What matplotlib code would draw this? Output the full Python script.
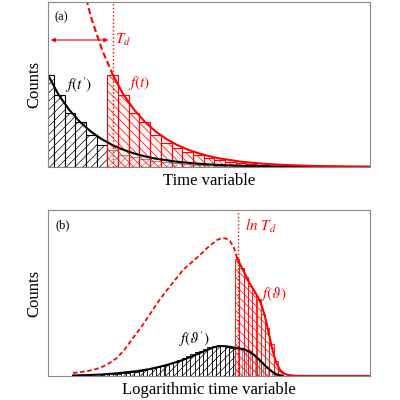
import numpy as np
import matplotlib
matplotlib.use("Agg")
import matplotlib.pyplot as plt

plt.rcParams['font.family'] = ['Liberation Serif', 'DejaVu Serif']
plt.rcParams['mathtext.fontset'] = 'stix'
plt.rcParams['hatch.linewidth'] = 0.5

# ---- panel (a): bins of width 1 ----
td = 6.07
black_a = [92, 72, 54, 45, 32, 22, 17, 12, 10, 8, 6, 5, 4, 3, 2, 2, 1.5, 1, 1]
red_a = [92, 72, 54, 45, 32, 24, 19, 15, 12, 9, 7, 5, 4, 3, 2, 1.5]
decay_x = [0, 1, 2, 3, 4, 5, 6, 7, 8, 9, 10, 12, 14, 16, 18, 20, 22, 25, 30]
decay_y = [92, 72, 57, 45, 35.5, 28, 22, 17.4, 13.7, 10.8, 8.5, 5.3, 3.3, 2.0, 1.3, 0.8, 0.5, 0.2, 0.05]

# ---- panel (b): x in pixel-like units ----
bw = 4.3
black_b = [1.4, 1.65, 1.9, 2.2, 2.5, 2.9, 3.4, 3.9, 4.4, 5.1, 5.9, 6.8, 7.7, 8.8, 10.0,
           11.3, 12.8, 14.5, 16.1, 17.9, 19.9, 21.8, 23.8, 25.5, 27.2, 28.6, 29.6, 30,
           29.8, 29.3, 28.5, 27.5, 26.8, 26.2, 25, 22, 18, 14, 10, 5, 2.5, 1]
red_b = [117, 108, 99, 90, 83, 77, 62, 48, 32, 15, 5]
dash_x = [25, 40, 52, 60, 69, 77, 85, 94, 102, 110, 119, 127, 135, 144, 152, 158,
          164, 169, 174, 178, 182, 186, 189]
dash_y = [3, 5, 8, 12, 18, 27, 38, 50, 62, 74, 86, 96, 106, 114, 121, 127,
          132, 136, 138, 137.5, 135, 128, 118]
solid_x = [189, 194, 198, 202, 207, 212, 216, 219, 222, 225, 228, 232, 236, 240, 247, 267, 322]
solid_y = [118, 108, 100, 92, 84, 75, 63, 51, 37, 24, 14, 6, 2.5, 1, 0.2, 0, 0]
blk_x = [25, 40, 52, 70, 90, 102, 117, 132, 145, 152, 160, 166, 171, 177, 183,
         190, 196, 201, 206, 211, 215, 219, 224, 229, 235]
blk_y = [0.5, 0.9, 1.4, 2.8, 5, 7, 10.5, 15, 20, 23, 26.5, 28.8, 30, 29.8, 29,
         27.8, 26.8, 24.5, 21, 16.5, 12.5, 8.5, 4.5, 1.5, 0]

fig = plt.figure(figsize=(4, 4), dpi=100)
axa = fig.add_axes([0.12, 0.5825, 0.805, 0.4125])
axb = fig.add_axes([0.12, 0.06, 0.805, 0.415])

xa = -0.45 + np.arange(len(black_a))
axa.bar(xa, black_a, width=1, align='edge', facecolor='white', edgecolor='black',
        hatch='////', lw=0.8)
xr = 5.55 + np.arange(len(red_a))
axa.bar(xr, red_a, width=1, align='edge', facecolor=(1, 0.93, 0.93, 0.6), edgecolor='red',
        hatch='\\\\\\\\', lw=0.8)
dx = np.array(decay_x, float)
dy = np.array(decay_y, float)
axa.plot(dx, dy, color='black', lw=1.5)
axa.plot(dx + td, dy, color='red', lw=1.5)
axa.plot(dx[:4] - 3 + td, [92 * np.exp(3 / 4.2), 92 * np.exp(2 / 4.2), 92 * np.exp(1 / 4.2), 92],
         color='red', lw=1.5, dashes=(3, 1.5))
axa.axvline(td, color='red', ls=':', lw=1)
axa.annotate('', xy=(0, 127), xytext=(5.9, 127),
             arrowprops=dict(arrowstyle='<|-|>', color='red', lw=0.8, mutation_scale=6))
axa.text(6.3, 127, '$T_d$', color='red', fontsize=11, va='center')
axa.text(1.6, 82, "$f(t')$", fontsize=11, va='center')
axa.text(7.5, 84, "$f(t)$", color='red', fontsize=11, va='center')
axa.text(0.65, 147, '(a)', fontsize=9)
axa.set_xlim(0, 30.1)
axa.set_ylim(0, 165)
axa.set_xlabel('Time variable', fontsize=12, labelpad=4)
axa.set_ylabel('Counts', fontsize=12, labelpad=4)

xb = 52 + bw * np.arange(len(black_b))
axb.bar(xb, black_b, width=bw, align='edge', facecolor='white', edgecolor='black',
        hatch='////', lw=0.6)
xrb = 187 + bw * np.arange(len(red_b))
axb.bar(xrb, red_b, width=bw, align='edge', facecolor=(1, 0.93, 0.93, 0.6), edgecolor='red',
        hatch='\\\\\\\\', lw=0.6)
axb.plot(dash_x, dash_y, color='red', lw=1.3, dashes=(2.5, 1.5))
axb.plot(solid_x, solid_y, color='red', lw=1.5)
axb.plot(blk_x, blk_y, color='black', lw=1.5)
axb.axvline(190, color='red', ls=':', lw=1)
axb.text(197, 150, '$ln\\ T_d$', color='red', fontsize=11, va='center')
axb.text(212, 82, '$f(\\vartheta)$', color='red', fontsize=11, va='center')
axb.text(130, 37, "$f(\\vartheta')$", fontsize=11, va='center')
axb.text(7, 148, '(b)', fontsize=9)
axb.set_xlim(0, 322)
axb.set_ylim(0, 166)
axb.set_xlabel('Logarithmic time variable', fontsize=12, labelpad=4)
axb.set_ylabel('Counts', fontsize=12, labelpad=4)

for ax in (axa, axb):
    ax.set_xticks([])
    ax.set_yticks([])
    for s in ax.spines.values():
        s.set_color('#888888')
        s.set_linewidth(0.8)

fig.savefig('out.png', dpi=100)
